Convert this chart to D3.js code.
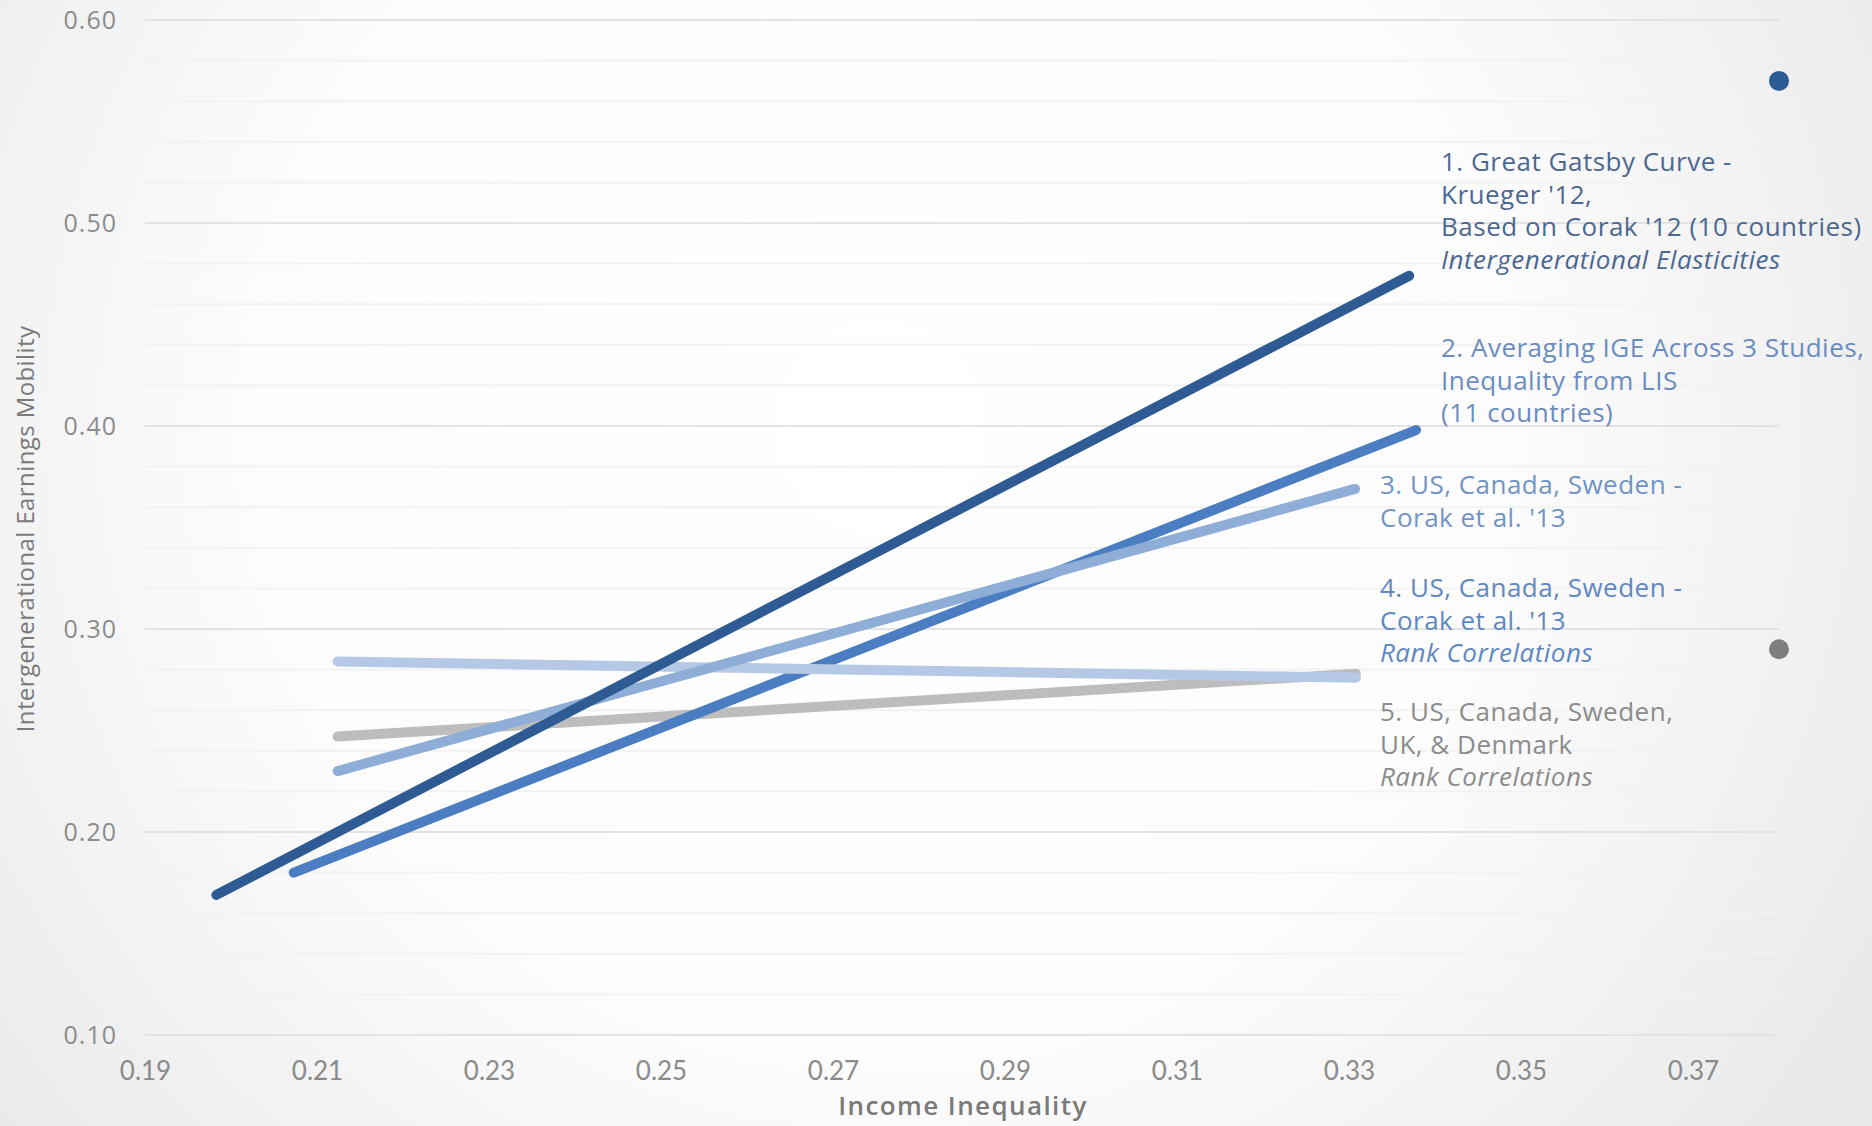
<!DOCTYPE html>
<html>
<head>
<meta charset="utf-8">
<script src="https://cdn.jsdelivr.net/npm/d3@7"></script>
<style>
  html, body { margin: 0; padding: 0; background: #ffffff; }
  svg { display: block; }
</style>
</head>
<body>
<svg id="chart" width="1872" height="1126"></svg>
<script>
// ---------------- DATA ----------------
const xTickValues = [0.19, 0.21, 0.23, 0.25, 0.27, 0.29, 0.31, 0.33, 0.35, 0.37];
const yTickValues = [0.10, 0.20, 0.30, 0.40, 0.50, 0.60];
const yMinorValues = [0.12, 0.14, 0.16, 0.18, 0.22, 0.24, 0.26, 0.28, 0.32, 0.34, 0.36, 0.38,
                      0.42, 0.44, 0.46, 0.48, 0.52, 0.54, 0.56, 0.58];

const seriesIds   = ["gatsby", "avgIGE", "corak13", "corak13rank", "five"];
const lineStartX  = [0.1983, 0.2073, 0.2124, 0.2124, 0.2124];
const lineStartY  = [0.169, 0.180, 0.230, 0.284, 0.247];
const lineEndX    = [0.3370, 0.3378, 0.3307, 0.3308, 0.3308];
const lineEndY    = [0.474, 0.398, 0.369, 0.276, 0.278];

const pointX = [0.38, 0.38];
const pointY = [0.57, 0.29];

const labelLines = [
  [["1. Great Gatsby Curve -", false], ["Krueger '12,", false], ["Based on Corak '12 (10 countries)", false], ["Intergenerational Elasticities", true]],
  [["2. Averaging IGE Across 3 Studies,", false], ["Inequality from LIS", false], ["(11 countries)", false]],
  [["3. US, Canada, Sweden -", false], ["Corak et al. '13", false]],
  [["4. US, Canada, Sweden -", false], ["Corak et al. '13", false], ["Rank Correlations", true]],
  [["5. US, Canada, Sweden,", false], ["UK, & Denmark", false], ["Rank Correlations", true]]
];

const xTitle = "Income Inequality";
const yTitle = "Intergenerational Earnings Mobility";

// ---------------- STYLE ----------------
const lineColors  = ["#2e5b94", "#4a7dc2", "#8eaed8", "#b5c9e6", "#bdbdbd"];
const drawOrder   = [4, 1, 3, 2, 0];
const pointColors = ["#2c5a94", "#7e7e7e"];
const labelColors = ["#4c6891", "#6a8cc0", "#7094c8", "#5f88c3", "#8c8c8c"];
const labelPos    = [[1441, 171], [1441, 357], [1380, 494], [1380, 597], [1380, 721]];
const lineGap = 32.5;

// ---------------- CHART ----------------
const W = 1872, H = 1126;
const svg = d3.select("#chart");

const defs = svg.append("defs");
const grad = defs.append("radialGradient")
  .attr("id", "bg").attr("gradientUnits", "userSpaceOnUse")
  .attr("cx", 880).attr("cy", 430).attr("r", 1150);
grad.append("stop").attr("offset", "0").attr("stop-color", "#ffffff");
grad.append("stop").attr("offset", "0.55").attr("stop-color", "#fcfcfc");
grad.append("stop").attr("offset", "1").attr("stop-color", "#e9e9e9");
svg.append("rect").attr("width", W).attr("height", H).attr("fill", "url(#bg)");

const x = d3.scaleLinear().domain([0.19, 0.38]).range([145, 1779]);
const y = d3.scaleLinear().domain([0.10, 0.60]).range([1035, 20]);

// gridlines
svg.append("g").selectAll("line").data(yMinorValues).join("line")
  .attr("x1", x(0.19)).attr("x2", x(0.38))
  .attr("y1", d => y(d)).attr("y2", d => y(d))
  .attr("stroke", "#f2f2f2").attr("stroke-width", 2);
svg.append("g").selectAll("line").data(yTickValues).join("line")
  .attr("x1", x(0.19)).attr("x2", x(0.38))
  .attr("y1", d => y(d)).attr("y2", d => y(d))
  .attr("stroke", "#e3e3e3").attr("stroke-width", 2);

// axes
const xAxis = svg.append("g").attr("transform", `translate(0,${y(0.10)})`)
  .call(d3.axisBottom(x).tickValues(xTickValues).tickFormat(d3.format(".2f")).tickSize(0).tickPadding(27));
xAxis.select(".domain").remove();
xAxis.selectAll("text").attr("font-family", "Lato, 'Open Sans', sans-serif")
  .attr("font-size", 26).attr("fill", "#8a8a8a");

const yAxis = svg.append("g").attr("transform", `translate(${x(0.19)},0)`)
  .call(d3.axisLeft(y).tickValues(yTickValues).tickFormat(d3.format(".2f")).tickSize(0).tickPadding(28));
yAxis.select(".domain").remove();
yAxis.selectAll("text").attr("font-family", "'Open Sans', sans-serif")
  .attr("font-size", 25).attr("letter-spacing", 1).attr("fill", "#8c8c8c");

// axis titles
svg.append("text").text(xTitle)
  .attr("x", 963).attr("y", 1115).attr("text-anchor", "middle")
  .attr("font-family", "'Open Sans', sans-serif").attr("font-weight", 600)
  .attr("font-size", 26).attr("letter-spacing", 1.4).attr("fill", "#7a7a7a");
svg.append("text").text(yTitle)
  .attr("transform", "translate(34,529) rotate(-90)").attr("text-anchor", "middle")
  .attr("font-family", "'Open Sans', sans-serif")
  .attr("font-size", 24).attr("letter-spacing", 0.4).attr("fill", "#7a7a7a");

// lines
svg.append("g").selectAll("line").data(drawOrder).join("line")
  .attr("x1", i => x(lineStartX[i])).attr("y1", i => y(lineStartY[i]))
  .attr("x2", i => x(lineEndX[i])).attr("y2", i => y(lineEndY[i]))
  .attr("stroke", i => lineColors[i]).attr("stroke-width", 10)
  .attr("stroke-linecap", "round");

// points
svg.append("g").selectAll("circle").data(pointX).join("circle")
  .attr("cx", (d) => x(d)).attr("cy", (d, i) => y(pointY[i]))
  .attr("r", 10).attr("fill", (d, i) => pointColors[i]);

// labels
labelLines.forEach((lines, i) => {
  const t = svg.append("text")
    .attr("font-family", "'Open Sans', sans-serif")
    .attr("font-size", 26).attr("letter-spacing", 0.5).attr("fill", labelColors[i]);
  lines.forEach(([s, it], j) => {
    t.append("tspan").text(s)
      .attr("x", labelPos[i][0]).attr("y", labelPos[i][1] + j * lineGap)
      .attr("font-style", it ? "italic" : "normal");
  });
});
</script>
</body>
</html>
